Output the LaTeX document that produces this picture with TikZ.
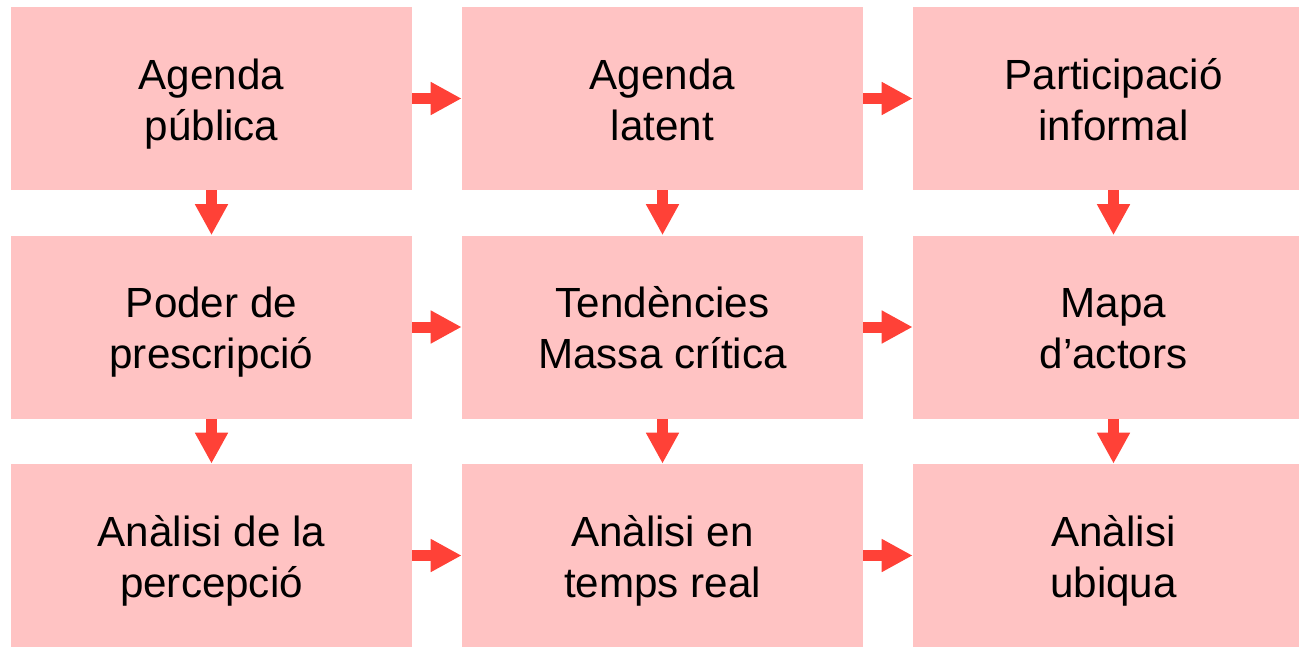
\documentclass[tikz,border=0pt]{standalone}
\usepackage{fontspec}
\setmainfont{Liberation Sans}
\usetikzlibrary{positioning, arrows.meta}
\definecolor{boxpink}{RGB}{255,195,195}
\definecolor{arrowred}{RGB}{255,65,55}
% two lines with fixed strut top and bottom
\newcommand{\twolines}[2]{\rule{0pt}{25.5pt}#1\\#2\rule[-7pt]{0pt}{7pt}}

\begin{document}
\begin{tikzpicture}[node distance=4.57cm and 9.02cm,on grid,
        box/.style={rectangle,fill=boxpink,minimum width=8.02cm,minimum height=3.66cm,
          align=center,font=\fontsize{24}{29}\selectfont},
        arr/.style={-{Triangle[width=0.62cm,length=0.62cm]},line width=0.22cm,
          draw=arrowred,fill=arrowred}]
        \useasboundingbox (0,0) rectangle (25.98,-12.92);
        \node[box] (ag_pub)   at (4.23,-1.97) {\twolines{Agenda}{pública}};
        \node[box] (ag_lat)   [right=of ag_pub] {\twolines{Agenda}{latent}};
        \node[box] (part_inf) [right=of ag_lat] {\twolines{Participació}{informal}};
        \node[box] (poder)    [below=of ag_pub] {\twolines{Poder de}{prescripció}};
        \node[box] (tend)     [right=of poder] {\twolines{Tendències}{Massa crítica}};
        \node[box] (mapa)     [right=of tend] {\twolines{Mapa}{d’actors}};
        \node[box] (an_perc)  [below=of poder] {\twolines{Anàlisi de la}{percepció}};
        \node[box] (an_temps) [right=of an_perc] {\twolines{Anàlisi en}{temps real}};
        \node[box] (an_ubiq)  [right=of an_temps] {\twolines{Anàlisi}{ubiqua}};
        \path[arr]
        (ag_pub) edge (ag_lat)
                 edge (poder)
        (ag_lat) edge (part_inf)
                 edge (tend)
        (part_inf) edge (mapa)
        (poder) edge (tend)
                edge (an_perc)
        (tend) edge (mapa)
               edge (an_temps)
        (mapa) edge (an_ubiq)
        (an_perc) edge (an_temps)
        (an_temps) edge (an_ubiq);
      \end{tikzpicture}
\end{document}
